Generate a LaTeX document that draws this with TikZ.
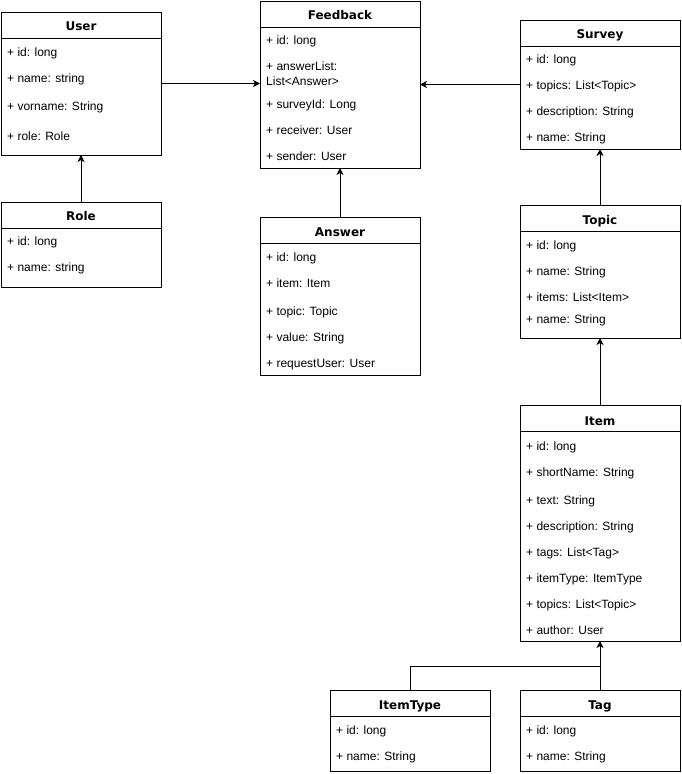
\documentclass[tikz,border=0pt]{standalone}
\usepackage{fontspec}
\setmainfont{Liberation Sans}
\newfontfamily\titlefont{DejaVu Sans}
\usetikzlibrary{arrows.meta}
\begin{document}
\begin{tikzpicture}[x=1pt,y=-1pt,
  cls/.style={draw, line width=1pt, anchor=north west, minimum width=160pt, inner sep=0pt, outer sep=0pt},
  hdr/.style={line width=1pt},
  ttl/.style={font=\titlefont\bfseries\fontsize{12}{14}\selectfont, inner sep=0pt, text height=9pt, text depth=3pt, yshift=-1.5pt},
  att/.style={font=\fontsize{12}{14}\selectfont, anchor=west, inner sep=0pt, text height=9pt, text depth=3pt, yshift=-1.5pt},
  conn/.style={line width=1pt, -{Stealth[length=7pt,width=7pt,inset=2pt]}}]
\useasboundingbox (0,0) rectangle (681,774);

% User
\node[cls, minimum height=143pt] (user) at (1,12) {};
\draw[hdr] ([yshift=-26pt]user.north west) -- ([yshift=-26pt]user.north east);
\node[ttl] (userT) at ([yshift=-14pt]user.north) {User};
\node[att] (userA1) at (7,52) {+ id: long};
\node[att] (userA2) at (7,78) {+ name: string};
\node[att] (userA3) at (7,106) {+ vorname: String};
\node[att] (userA4) at (7,136) {+ role: Role};

% Role
\node[cls, minimum height=85pt] (role) at (1,202) {};
\draw[hdr] ([yshift=-26pt]role.north west) -- ([yshift=-26pt]role.north east);
\node[ttl] (roleT) at ([yshift=-14pt]role.north) {Role};
\node[att] (roleA1) at (7,241) {+ id: long};
\node[att] (roleA2) at (7,267) {+ name: string};

% Feedback
\node[cls, minimum height=167pt] (feedback) at (260,1) {};
\draw[hdr] ([yshift=-26pt]feedback.north west) -- ([yshift=-26pt]feedback.north east);
\node[ttl] (feedbackT) at ([yshift=-14pt]feedback.north) {Feedback};
\node[att] (feedbackA1) at (266,40) {+ id: long};
\node[att] (feedbackA2) at (266,66) {+ answerList:};
\node[att] (feedbackA2b) at (266,81) {List<Answer>};
\node[att] (feedbackA3) at (266,104) {+ surveyId: Long};
\node[att] (feedbackA4) at (266,130) {+ receiver: User};
\node[att] (feedbackA5) at (266,156) {+ sender: User};

% Answer
\node[cls, minimum height=158pt] (answer) at (260,217) {};
\draw[hdr] ([yshift=-26pt]answer.north west) -- ([yshift=-26pt]answer.north east);
\node[ttl] (answerT) at ([yshift=-15pt]answer.north) {Answer};
\node[att] (answerA1) at (266,257) {+ id: long};
\node[att] (answerA2) at (266,283) {+ item: Item};
\node[att] (answerA3) at (266,311) {+ topic: Topic};
\node[att] (answerA4) at (266,337) {+ value: String};
\node[att] (answerA5) at (266,363) {+ requestUser: User};

% Survey
\node[cls, minimum height=129pt] (survey) at (520,20) {};
\draw[hdr] ([yshift=-26pt]survey.north west) -- ([yshift=-26pt]survey.north east);
\node[ttl] (surveyT) at ([yshift=-14pt]survey.north) {Survey};
\node[att] (surveyA1) at (526,59) {+ id: long};
\node[att] (surveyA2) at (526,85) {+ topics: List<Topic>};
\node[att] (surveyA3) at (526,111) {+ description: String};
\node[att] (surveyA4) at (526,137) {+ name: String};

% Topic
\node[cls, minimum height=133pt] (topic) at (520,205) {};
\draw[hdr] ([yshift=-26pt]topic.north west) -- ([yshift=-26pt]topic.north east);
\node[ttl] (topicT) at ([yshift=-15pt]topic.north) {Topic};
\node[att] (topicA1) at (526,245) {+ id: long};
\node[att] (topicA2) at (526,271) {+ name: String};
\node[att] (topicA3) at (526,297) {+ items: List<Item>};
\node[att] (topicA4) at (526,319) {+ name: String};

% Item
\node[cls, minimum height=236pt] (item) at (520,405) {};
\draw[hdr] ([yshift=-26pt]item.north west) -- ([yshift=-26pt]item.north east);
\node[ttl] (itemT) at ([yshift=-16pt]item.north) {Item};
\node[att] (itemA1) at (526,446) {+ id: long};
\node[att] (itemA2) at (526,472) {+ shortName: String};
\node[att] (itemA3) at (526,500) {+ text: String};
\node[att] (itemA4) at (526,526) {+ description: String};
\node[att] (itemA5) at (526,552) {+ tags: List<Tag>};
\node[att] (itemA6) at (526,578) {+ itemType: ItemType};
\node[att] (itemA7) at (526,604) {+ topics: List<Topic>};
\node[att] (itemA8) at (526,630) {+ author: User};

% ItemType
\node[cls, minimum height=81pt] (itemtype) at (330,690) {};
\draw[hdr] ([yshift=-26pt]itemtype.north west) -- ([yshift=-26pt]itemtype.north east);
\node[ttl] (itemtypeT) at ([yshift=-15pt]itemtype.north) {ItemType};
\node[att] (itemtypeA1) at (336,730) {+ id: long};
\node[att] (itemtypeA2) at (336,756) {+ name: String};

% Tag
\node[cls, minimum height=81pt] (tag) at (520,690) {};
\draw[hdr] ([yshift=-26pt]tag.north west) -- ([yshift=-26pt]tag.north east);
\node[ttl] (tagT) at ([yshift=-15pt]tag.north) {Tag};
\node[att] (tagA1) at (526,730) {+ id: long};
\node[att] (tagA2) at (526,756) {+ name: String};

% Connectors
\draw[conn] (user.east) -- (user.east -| feedback.west);
\draw[conn] (survey.west) -- (survey.west -| feedback.east);
\draw[conn] (role.north) -- (user.south);
\draw[conn] (answer.north) -- (answer.north |- feedback.south);
\draw[conn] (topic.north) -- (survey.south);
\draw[conn] (item.north) -- (topic.south);
\draw[conn] (tag.north) -- (item.south);
\coordinate (join) at (600,666);
\draw[line width=1pt] (itemtype.north) |- (join);
\end{tikzpicture}
\end{document}
